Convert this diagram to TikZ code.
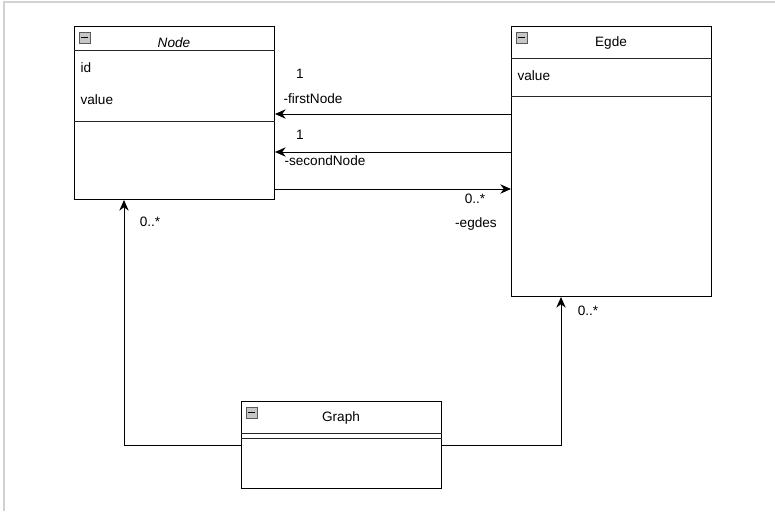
\documentclass[tikz,border=0pt]{standalone}
\usepackage{fontspec}
\setmainfont{Liberation Sans}
\usetikzlibrary{arrows.meta, positioning}

\newcommand{\minusicon}[1]{%
	\draw[draw=gray!70!black, fill=gray!45, line width=0.5pt]
		([shift={(5,6)}]#1.north west) rectangle ([shift={(16,17)}]#1.north west);
	\draw[line width=0.6pt] ([shift={(7,11.5)}]#1.north west) -- ([shift={(14,11.5)}]#1.north west);
}

\begin{document}
\begin{tikzpicture}[x=0.75pt, y=-0.75pt,
	font=\fontsize{10.2}{12}\selectfont,
	classbox/.style={draw, line width=0.75pt, anchor=north west, inner sep=0pt,
		minimum width=150pt},
	sepline/.style={line width=0.75pt, draw=black!85},
	assoc/.style={line width=0.75pt, -{Stealth[length=8pt, width=7pt]}},
	lbl/.style={inner sep=1pt},
	attr/.style={inner sep=1pt, anchor=west}]

	% frame of the page
	\useasboundingbox (0,0) rectangle (775,511);
	\draw[gray!35, line width=0.8pt] (4,511) -- (4,2) -- (775,2);

	% classes
	\node[classbox, minimum height=129.75pt] (node) at (74,26) {};
	\node[classbox, minimum height=202.5pt] (egde) at (511,26) {};
	\node[classbox, minimum height=65.25pt] (graph) at (241,401) {};

	% compartments
	\draw[sepline] ([yshift=-18pt]node.north west) -- ([yshift=-18pt]node.north east);
	\draw[sepline] ([yshift=-71.25pt]node.north west) -- ([yshift=-71.25pt]node.north east);
	\draw[sepline] ([yshift=-24pt]egde.north west) -- ([yshift=-24pt]egde.north east);
	\draw[sepline] ([yshift=-52.5pt]egde.north west) -- ([yshift=-52.5pt]egde.north east);
	\draw[sepline] ([yshift=-24pt]graph.north west) -- ([yshift=-24pt]graph.north east);
	\draw[sepline] ([yshift=-27.75pt]graph.north west) -- ([yshift=-27.75pt]graph.north east);

	\minusicon{node}
	\minusicon{egde}
	\minusicon{graph}

	% titles and attributes
	\node[lbl] (nodetitle) at (174,43) {\itshape Node};
	\node[lbl] (egdetitle) at (611,43) {Egde};
	\node[lbl] (graphtitle) at (341,418) {Graph};
	\node[attr] (nodeid) at (79,68) {id};
	\node[attr] (nodevalue) at (79,100) {value};
	\node[attr] (egdevalue) at (516,76) {value};

	% associations
	\coordinate (fn) at (0,114);
	\coordinate (sn) at (0,152);
	\coordinate (ed) at (0,189);
	\coordinate (gn) at (124,0);
	\coordinate (ge) at (561,0);

	\draw[assoc] (egde.west |- fn) -- (node.east |- fn);
	\draw[assoc] (egde.west |- sn) -- (node.east |- sn);
	\draw[assoc] (node.east |- ed) -- (egde.west |- ed);
	\draw[assoc] (graph.west) -| (gn |- node.south);
	\draw[assoc] (graph.east) -| (ge |- egde.south);

	\node[lbl] (fnmult) at (300,74) {1};
	\node[lbl] (fnrole) at (313,99) {-firstNode};
	\node[lbl] (snmult) at (300,135) {1};
	\node[lbl] (snrole) at (325,161) {-secondNode};
	\node[lbl] (edmult) at (475,199) {0..*};
	\node[lbl] (edrole) at (476,224) {-egdes};
	\node[lbl] (gnmult) at (150,222) {0..*};
	\node[lbl] (gemult) at (588,311) {0..*};

\end{tikzpicture}
\end{document}
